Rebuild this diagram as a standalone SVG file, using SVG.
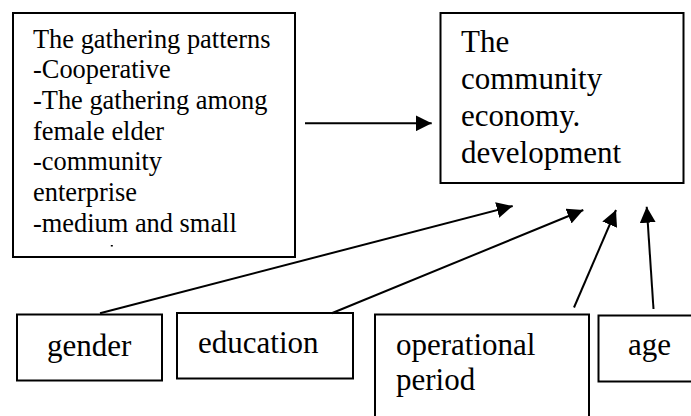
<svg xmlns="http://www.w3.org/2000/svg" width="691" height="416" viewBox="0 0 691 416">
  <style>
    .box { fill: #ffffff; stroke: #000000; stroke-width: 2; }
    .txt { font-family: "Liberation Serif", "Times New Roman", serif; fill: #000000; }
    .big { font-size: 31px; }
    .small { font-size: 26.4px; }
    .link { fill: none; stroke: #000000; stroke-width: 2; marker-end: url(#arrow); }
  </style>
  <defs>
    <marker id="arrow" viewBox="0 0 16 16" refX="16" refY="8" markerWidth="16" markerHeight="16" markerUnits="userSpaceOnUse" orient="auto">
      <path d="M0,0 L16,8 L0,16 z" fill="#000000"/>
    </marker>
  </defs>
  <rect width="691" height="416" fill="#ffffff"/>

  <!-- source factors -->
  <g id="node-patterns">
    <rect class="box" x="13" y="13" width="282" height="244"/>
    <text class="txt small">
      <tspan x="33" y="47.7">The gathering patterns</tspan>
      <tspan x="33" y="78.4">-Cooperative</tspan>
      <tspan x="33" y="109">-The gathering among</tspan>
      <tspan x="33" y="139.7">female elder</tspan>
      <tspan x="33" y="170.4">-community</tspan>
      <tspan x="33" y="201">enterprise</tspan>
      <tspan x="33" y="231.7">-medium and small</tspan>
    </text>
    <rect x="110.8" y="245" width="2" height="1.5" fill="#000000"/>
  </g>

  <g id="node-economy">
    <rect class="box" x="440.5" y="13" width="243" height="170"/>
    <text class="txt big">
      <tspan x="461" y="52.3">The</tspan>
      <tspan x="461" y="89.3">community</tspan>
      <tspan x="461" y="126.3">economy.</tspan>
      <tspan x="461" y="163.3">development</tspan>
    </text>
  </g>

  <g id="node-gender">
    <rect class="box" x="17" y="314.5" width="145" height="66"/>
    <text class="txt big" x="47" y="355.5">gender</text>
  </g>

  <g id="node-education">
    <rect class="box" x="177" y="313" width="176" height="65.5"/>
    <text class="txt big" x="198" y="353">education</text>
  </g>

  <g id="node-period">
    <rect class="box" x="375" y="314.5" width="214" height="112"/>
    <text class="txt big">
      <tspan x="396" y="355">operational</tspan>
      <tspan x="396" y="390">period</tspan>
    </text>
  </g>

  <g id="node-age">
    <rect class="box" x="598.5" y="315.5" width="100" height="66"/>
    <text class="txt big" x="628" y="355">age</text>
  </g>

  <!-- influence arrows -->
  <g id="connectors">
    <line class="link" x1="305" y1="123.3" x2="431.7" y2="123.3"/>
    <line class="link" x1="100" y1="313.3" x2="512.7" y2="206"/>
    <line class="link" x1="331.7" y1="313.3" x2="583.3" y2="210"/>
    <line class="link" x1="574" y1="307.5" x2="616" y2="210"/>
    <line class="link" x1="653.5" y1="309" x2="646.7" y2="206.7"/>
  </g>
</svg>
